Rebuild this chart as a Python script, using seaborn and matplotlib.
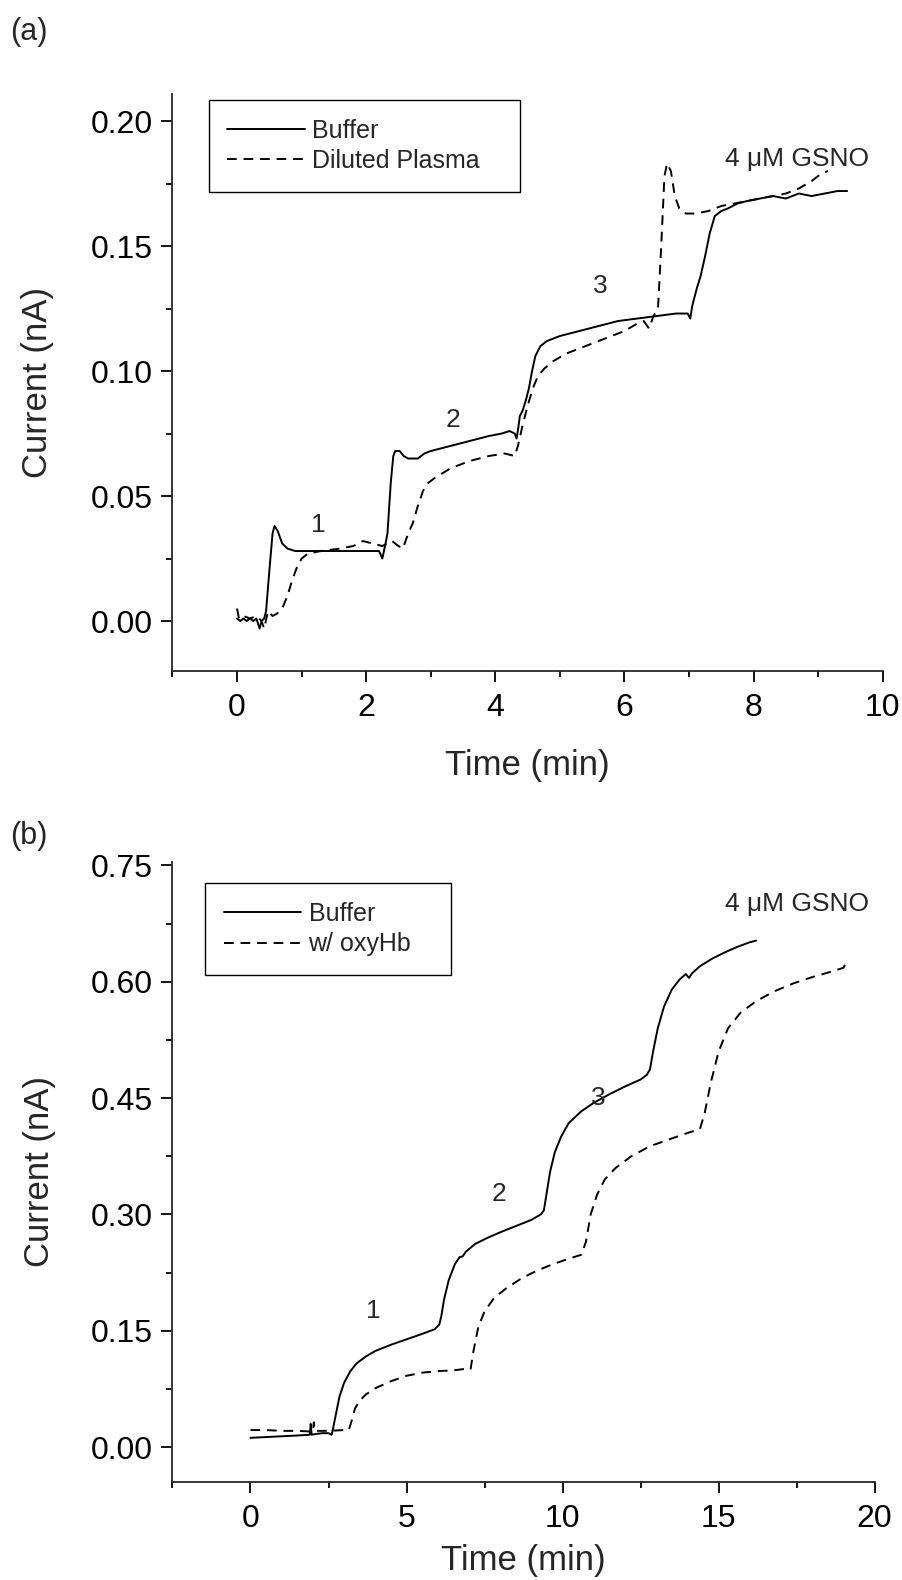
import numpy as np
import pandas as pd
import matplotlib
matplotlib.use("Agg")
import matplotlib.pyplot as plt
import seaborn as sns
from matplotlib.ticker import MultipleLocator, FormatStrFormatter

# ---------------- Panel (a) data ----------------
a_buffer_t = [0.00, 0.05, 0.10, 0.15, 0.20, 0.25, 0.30, 0.35, 0.38, 0.42, 0.45, 0.50, 0.55, 0.58,
              0.63, 0.70, 0.78, 0.90, 1.20, 1.60, 2.00, 2.20, 2.25, 2.30, 2.33, 2.38, 2.42, 2.45,
              2.52, 2.58, 2.65, 2.80, 2.90, 3.00, 3.30, 3.60, 3.90, 4.10, 4.22, 4.30, 4.33, 4.36,
              4.38, 4.42, 4.47, 4.52, 4.57, 4.62, 4.70, 4.80, 5.00, 5.30, 5.60, 5.90, 6.20, 6.50,
              6.80, 6.98, 7.02, 7.05, 7.12, 7.18, 7.25, 7.32, 7.40, 7.50, 7.60, 7.75, 7.90, 8.10,
              8.30, 8.50, 8.70, 8.90, 9.10, 9.30, 9.45]
a_buffer_i = [0.001, 0.000, 0.001, 0.000, 0.001, 0.000, 0.001, -0.003, 0.000, 0.001, 0.004, 0.020,
              0.035, 0.038, 0.036, 0.031, 0.029, 0.028, 0.028, 0.028, 0.028, 0.028, 0.025, 0.031,
              0.035, 0.055, 0.066, 0.068, 0.068, 0.066, 0.065, 0.065, 0.067, 0.068, 0.070, 0.072,
              0.074, 0.075, 0.076, 0.075, 0.073, 0.078, 0.082, 0.084, 0.088, 0.093, 0.100, 0.106,
              0.110, 0.112, 0.114, 0.116, 0.118, 0.120, 0.121, 0.122, 0.123, 0.123, 0.121, 0.126,
              0.133, 0.138, 0.146, 0.155, 0.162, 0.164, 0.165, 0.167, 0.168, 0.169, 0.170, 0.169,
              0.171, 0.170, 0.171, 0.172, 0.172]

a_plasma_t = [0.00, 0.03, 0.10, 0.20, 0.30, 0.38, 0.42, 0.48, 0.55, 0.62, 0.70, 0.78, 0.85, 0.92,
              1.00, 1.10, 1.30, 1.60, 1.80, 1.95, 2.10, 2.25, 2.40, 2.50, 2.57, 2.65, 2.72, 2.80,
              2.88, 2.95, 3.05, 3.30, 3.60, 3.90, 4.15, 4.30, 4.35, 4.42, 4.50, 4.58, 4.66, 4.76,
              4.90, 5.10, 5.40, 5.70, 6.00, 6.20, 6.30, 6.38, 6.45, 6.52, 6.57, 6.62, 6.66, 6.72,
              6.78, 6.85, 6.95, 7.10, 7.30, 7.50, 7.70, 7.90, 8.10, 8.30, 8.50, 8.70, 8.90, 9.05,
              9.15]
a_plasma_i = [0.005, 0.001, 0.002, 0.001, 0.002, 0.000, -0.003, 0.004, 0.002, 0.003, 0.005, 0.010,
              0.016, 0.021, 0.025, 0.027, 0.028, 0.029, 0.030, 0.032, 0.031, 0.030, 0.032, 0.030,
              0.029, 0.035, 0.039, 0.046, 0.052, 0.055, 0.057, 0.061, 0.064, 0.066, 0.067, 0.066,
              0.070, 0.078, 0.086, 0.093, 0.098, 0.101, 0.104, 0.107, 0.110, 0.113, 0.116, 0.119,
              0.120, 0.117, 0.122, 0.125, 0.150, 0.178, 0.183, 0.180, 0.170, 0.165, 0.163, 0.163,
              0.164, 0.166, 0.167, 0.168, 0.169, 0.170, 0.171, 0.173, 0.176, 0.179, 0.180]

# ---------------- Panel (b) data ----------------
b_buffer_t = [0.0, 0.5, 1.0, 1.5, 1.9, 1.93, 1.96, 2.1, 2.3, 2.5, 2.6, 2.65, 2.75, 2.85, 3.0, 3.2,
              3.4, 3.7, 4.0, 4.5, 5.0, 5.5, 5.9, 6.05, 6.12, 6.2, 6.35, 6.55, 6.7, 6.8, 6.9, 7.2,
              7.6, 8.0, 8.5, 9.0, 9.3, 9.4, 9.5, 9.6, 9.75, 9.95, 10.2, 10.6, 11.0, 11.5, 12.0,
              12.5, 12.7, 12.8, 12.9, 13.05, 13.25, 13.5, 13.75, 13.95, 14.05, 14.15, 14.4, 14.8,
              15.2, 15.6, 16.0, 16.2]
b_buffer_i = [0.012, 0.013, 0.014, 0.015, 0.016, 0.030, 0.016, 0.017, 0.018, 0.018, 0.016, 0.025,
              0.045, 0.065, 0.083, 0.098, 0.108, 0.117, 0.124, 0.132, 0.139, 0.146, 0.152, 0.158,
              0.170, 0.190, 0.215, 0.236, 0.245, 0.246, 0.252, 0.262, 0.270, 0.277, 0.285, 0.293,
              0.300, 0.305, 0.330, 0.355, 0.380, 0.400, 0.418, 0.433, 0.444, 0.455, 0.465, 0.474,
              0.480, 0.487, 0.510, 0.540, 0.568, 0.590, 0.603, 0.610, 0.605, 0.611, 0.620, 0.630,
              0.638, 0.645, 0.651, 0.653]

b_oxyhb_t = [0.0, 0.5, 1.0, 1.5, 2.0, 2.03, 2.06, 2.5, 3.0, 3.15, 3.25, 3.35, 3.5, 3.7, 4.0, 4.5,
             5.0, 5.5, 6.0, 6.5, 6.9, 7.05, 7.15, 7.3, 7.5, 7.8, 8.2, 8.7, 9.2, 9.7, 10.2, 10.6,
             10.75, 10.9, 11.1, 11.35, 11.7, 12.2, 12.8, 13.5, 14.0, 14.4, 14.55, 14.75, 15.0,
             15.3, 15.7, 16.2, 16.8, 17.4, 18.0, 18.6, 19.0, 19.05, 19.1]
b_oxyhb_i = [0.022, 0.022, 0.021, 0.021, 0.020, 0.032, 0.021, 0.021, 0.022, 0.022, 0.035, 0.050,
             0.060, 0.068, 0.076, 0.085, 0.092, 0.096, 0.098, 0.099, 0.101, 0.100, 0.125, 0.155,
             0.175, 0.192, 0.205, 0.218, 0.228, 0.236, 0.243, 0.248, 0.265, 0.300, 0.325, 0.345,
             0.360, 0.375, 0.388, 0.398, 0.405, 0.410, 0.430, 0.470, 0.510, 0.540, 0.560, 0.575,
             0.588, 0.598, 0.606, 0.613, 0.618, 0.622, 0.615]

a_labels = ["Buffer", "Diluted Plasma"]
b_labels = ["Buffer", "w/ oxyHb"]
step_labels = ["1", "2", "3"]
gsno_label = "4 \u03bcM GSNO"
panel_letters = ["(a)", "(b)"]
x_label = "Time (min)"
y_label = "Current (nA)"

sns.set_theme(style="ticks")
plt.rcParams['font.family'] = ['Liberation Sans', 'DejaVu Sans']
plt.rcParams['axes.linewidth'] = 1.3

fig = plt.figure(figsize=(9.03, 15.80), dpi=100)
axa = fig.add_axes([0.191, 0.5753, 0.7865, 0.3655])
axb = fig.add_axes([0.191, 0.0620, 0.7776, 0.3927])

DASH = (0, (5, 3.5))


def draw(ax, t1, y1, t2, y2, labels):
    sns.lineplot(x=t1, y=y1, ax=ax, color="black", linewidth=1.4, sort=False,
                 estimator=None, label=labels[0] + "   ")
    sns.lineplot(x=t2, y=y2, ax=ax, color="black", linewidth=1.4, sort=False,
                 estimator=None, label=labels[1] + "   ", linestyle=DASH)


def style(ax, xlim, ylim, xmaj, xmin, ymaj, ymin):
    ax.set_xlim(*xlim)
    ax.set_ylim(*ylim)
    for s in ["top", "right"]:
        ax.spines[s].set_visible(False)
    ax.xaxis.set_major_locator(MultipleLocator(xmaj))
    ax.xaxis.set_minor_locator(MultipleLocator(xmin))
    ax.yaxis.set_major_locator(MultipleLocator(ymaj))
    ax.yaxis.set_minor_locator(MultipleLocator(ymin))
    ax.yaxis.set_major_formatter(FormatStrFormatter("%.2f"))
    ax.xaxis.set_major_formatter(FormatStrFormatter("%d"))
    ax.tick_params(which="major", length=8, width=1.3, labelsize=23, direction="out",
                   color="black", labelcolor="black")
    ax.tick_params(which="minor", length=4.5, width=1.3, direction="out", color="black")
    ax.tick_params(axis="x", which="major", pad=8)
    ax.tick_params(axis="y", which="major", pad=6)
    ax.set_xlabel(x_label, fontsize=25, va="center")
    ax.set_ylabel(y_label, fontsize=25, va="center")


def legend(ax, anchor):
    leg = ax.legend(loc="upper left", bbox_to_anchor=anchor, frameon=True, fancybox=False,
                    edgecolor="black", framealpha=1, fontsize=18, handlelength=3.1,
                    handletextpad=0.3, labelspacing=0.25, borderpad=0.75, borderaxespad=0)
    leg.get_frame().set_linewidth(1.0)


# Panel a
draw(axa, a_buffer_t, a_buffer_i, a_plasma_t, a_plasma_i, a_labels)
style(axa, (-1, 10), (-0.02, 0.211), 2, 1, 0.05, 0.025)
legend(axa, (0.051, 0.989))
axa.xaxis.set_label_coords(0.5, -0.163)
axa.yaxis.set_label_coords(-0.19, 0.5)
for lab, (tx, ty) in zip(step_labels, [(1.26, 0.0384), (3.34, 0.0805), (5.62, 0.134)]):
    axa.text(tx, ty, lab, fontsize=19, ha="center", va="center")
axa.text(8.68, 0.185, gsno_label, fontsize=19, ha="center", va="center")

# Panel b
draw(axb, b_buffer_t, b_buffer_i, b_oxyhb_t, b_oxyhb_i, b_labels)
style(axb, (-2.5, 20), (-0.045, 0.755), 5, 2.5, 0.15, 0.075)
legend(axb, (0.046, 0.965))
axb.xaxis.set_label_coords(0.5, -0.127)
axb.yaxis.set_label_coords(-0.19, 0.5)
for lab, (tx, ty) in zip(step_labels, [(3.95, 0.176), (7.97, 0.326), (11.16, 0.45)]):
    axb.text(tx, ty, lab, fontsize=19, ha="center", va="center")
axb.text(17.5, 0.70, gsno_label, fontsize=19, ha="center", va="center")

fig.text(10 / 903, 1 - 32 / 1580, panel_letters[0], fontsize=22, ha="left", va="center")
fig.text(10 / 903, 1 - 836 / 1580, panel_letters[1], fontsize=22, ha="left", va="center")

fig.savefig("out.png", dpi=100, facecolor="white")
